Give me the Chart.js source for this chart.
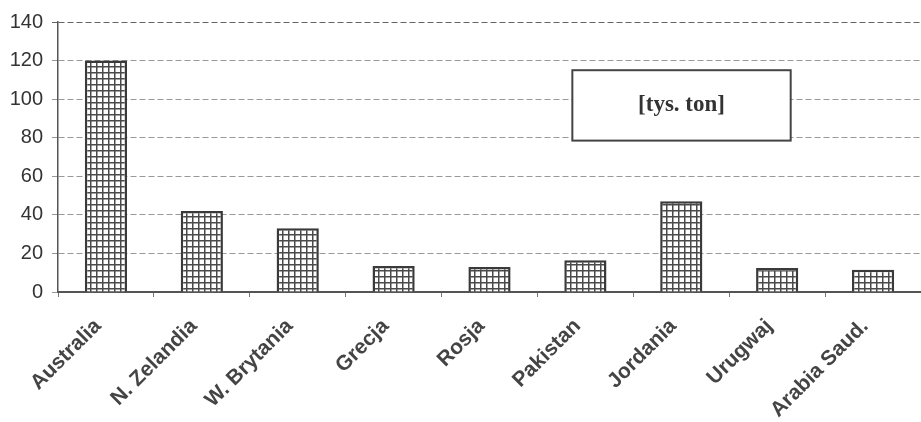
<!DOCTYPE html>
<html>
<head>
<meta charset="utf-8">
<script src="https://cdn.jsdelivr.net/npm/chart.js@4"></script>
<style>
  html, body { margin: 0; padding: 0; background: #fff; }
  #wrap { width: 921px; height: 422px; }
</style>
</head>
<body>
<div id="wrap"><canvas id="myChart1"></canvas></div>
<script>
// data (thousand tonnes)
const countries = ['Australia', 'N. Zelandia', 'W. Brytania', 'Grecja', 'Rosja', 'Pakistan', 'Jordania', 'Urugwaj', 'Arabia Saud.'];
const amounts = [120, 42, 33, 13.5, 13, 16.5, 47, 12.5, 11.5];
const yTicks = [0, 20, 40, 60, 80, 100, 120, 140];
const unitLabel = '[tys. ton]';

// small grid hatch like the old printed chart
function gridPattern() {
    const c = document.createElement('canvas');
    c.width = 6; c.height = 6;
    const g = c.getContext('2d');
    g.fillStyle = '#ffffff';
    g.fillRect(0, 0, 6, 6);
    g.fillStyle = '#4a4a4a';
    g.fillRect(0, 0, 6, 1.5);
    g.fillRect(0, 0, 1.5, 6);
    return g.createPattern(c, 'repeat');
}

// the boxed unit label
const unitBox = {
    id: 'unitBox',
    afterDatasetsDraw(chart) {
        const ctx = chart.ctx;
        const area = chart.chartArea;
        const y = chart.scales.y;
        const left = area.left + (area.right - area.left) * 0.596;
        const right = area.left + (area.right - area.left) * 0.849;
        const top = y.getPixelForValue(115);
        const bottom = y.getPixelForValue(78.5);
        ctx.save();
        ctx.fillStyle = '#fff';
        ctx.fillRect(left, top, right - left, bottom - top);
        ctx.lineWidth = 2;
        ctx.strokeStyle = '#444';
        ctx.strokeRect(left, top, right - left, bottom - top);
        ctx.fillStyle = '#333';
        ctx.font = 'bold 23px "Liberation Serif"';
        ctx.textAlign = 'center';
        ctx.textBaseline = 'middle';
        ctx.fillText(unitLabel, (left + right) / 2, (top + bottom) / 2);
        ctx.restore();
    }
};

var ctx = document.getElementById('myChart1').getContext('2d');
var export_chart = new Chart(ctx, {
    type: 'bar',
    data: {
        labels: countries,
        datasets: [{
            data: amounts,
            backgroundColor: gridPattern(),
            borderColor: '#3a3a3a',
            borderWidth: 2.5,
            categoryPercentage: 1,
            barPercentage: 0.44
        }]
    },
    options: {
        responsive: true,
        maintainAspectRatio: false,
        animation: false,
        layout: { padding: { top: 22, right: 0, left: 0, bottom: 0 } },
        plugins: {
            legend: { display: false },
            tooltip: { enabled: false }
        },
        scales: {
            x: {
                grid: {
                    offset: true,
                    drawOnChartArea: false,
                    drawTicks: true,
                    tickLength: 5,
                    color: '#777'
                },
                border: { color: '#555', width: 2 },
                ticks: {
                    minRotation: 45,
                    maxRotation: 45,
                    padding: 17,
                    labelOffset: -8,
                    color: '#444',
                    font: { family: '"Liberation Sans"', size: 21, weight: 'bold' }
                },
                afterFit(axis) { axis.height = 130; }
            },
            y: {
                min: 0,
                max: 140,
                afterBuildTicks(axis) { axis.ticks = yTicks.map(v => ({ value: v })); },
                grid: {
                    color: ctx => ctx.tick && ctx.tick.value === 140 ? '#666' : '#999',
                    lineWidth: 1,
                    tickLength: 6
                },
                border: { color: '#555', width: 1.5, dash: [6, 3] },
                ticks: {
                    padding: 9,
                    color: '#333',
                    font: { family: '"Liberation Sans"', size: 20 }
                },
                afterFit(axis) { axis.width = 58; }
            }
        }
    },
    plugins: [unitBox]
});
</script>
</body>
</html>
